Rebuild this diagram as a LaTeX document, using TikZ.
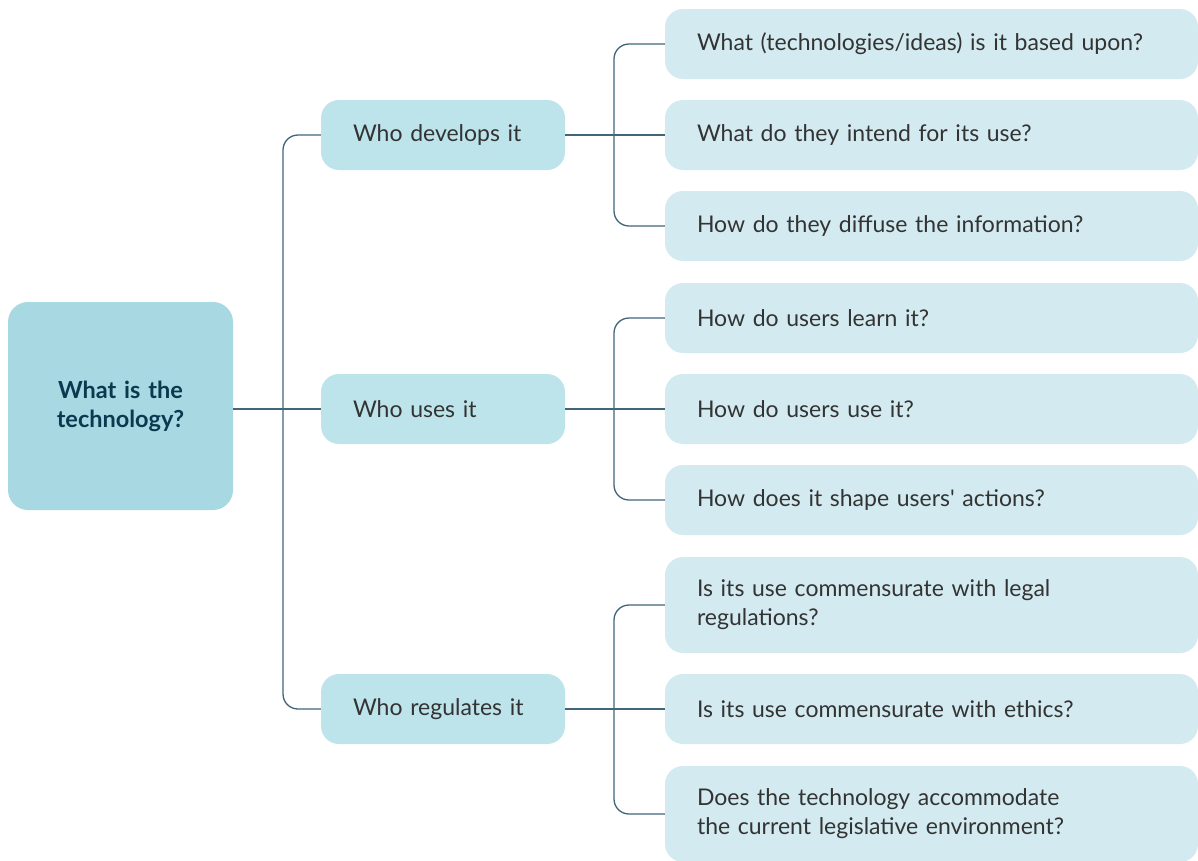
\documentclass[tikz,border=0pt]{standalone}
\usepackage{fontspec}
\setmainfont{Lato}
\newfontfamily\rawlato{Lato}
\begin{document}
\begin{tikzpicture}[x=1pt,y=-1pt,
  rootbox/.style={fill=rootfill,rounded corners=20pt,minimum width=225pt,minimum height=208pt,text width=200pt,align=center,text=roottext,font=\fontsize{23.5pt}{29pt}\selectfont\bfseries,inner sep=0pt},
  midbox/.style={fill=midfill,rounded corners=18pt,minimum width=244pt,minimum height=70pt,text width=180pt,align=left,inner xsep=32pt,inner ysep=0pt,text=bodytext,font=\fontsize{23pt}{29pt}\selectfont},
  leafbox/.style={fill=leaffill,rounded corners=18pt,minimum width=533pt,text width=469pt,align=left,inner xsep=32pt,inner ysep=0pt,text=bodytext,font=\fontsize{23pt}{29pt}\selectfont},
  conn/.style={draw=linecol,line width=1.3pt,rounded corners=15pt}]
\definecolor{rootfill}{HTML}{A8D8E2}
\definecolor{midfill}{HTML}{BDE3EB}
\definecolor{leaffill}{HTML}{D3EBF0}
\definecolor{linecol}{HTML}{41657A}
\definecolor{roottext}{HTML}{0B3A50}
\definecolor{bodytext}{HTML}{333333}
\useasboundingbox (0,0) rectangle (1198,860);
\begin{scope}
\clip (0,0) rectangle (1198,860);
\node[rootbox] (root) at (120.5,406) {What is the\\technology?};
\node[midbox] (m1) at (443,135) {Who develops it};
\node[midbox] (m2) at (443,409) {Who uses it};
\node[midbox] (m3) at (443,709) {Who regulates it};
\node[leafbox,minimum height=70pt] (l1) at (931.5,44) {What (technologies/ideas) is it based upon?};
\node[leafbox,minimum height=70pt] (l2) at (931.5,135) {What do they intend for its use?};
\node[leafbox,minimum height=70pt] (l3) at (931.5,226) {How do they diffuse the information?};
\node[leafbox,minimum height=70pt] (l4) at (931.5,318) {How do users learn it?};
\node[leafbox,minimum height=70pt] (l5) at (931.5,409) {How do users use it?};
\node[leafbox,minimum height=70pt] (l6) at (931.5,500) {How does it shape users{\rawlato'} actions?};
\node[leafbox,minimum height=96pt] (l7) at (931.5,605) {Is its use commensurate with legal\\regulations?};
\node[leafbox,minimum height=70pt] (l8) at (931.5,709) {Is its use commensurate with ethics?};
\node[leafbox,minimum height=96pt] (l9) at (931.5,814) {Does the technology accommodate\\the current legislative environment?};
\end{scope}
\coordinate (trunk) at (283,0);
\coordinate (b) at (614,0);
\draw[conn] (root.east |- m2.west) -- (m2.west);
\draw[conn] (m1.west) -- (m1.west -| trunk) -- (m3.west -| trunk) -- (m3.west);
\draw[conn] (m1.east) -- (l2.west);
\draw[conn] (l1.west) -- (l1.west -| b) -- (l3.west -| b) -- (l3.west);
\draw[conn] (m2.east) -- (l5.west);
\draw[conn] (l4.west) -- (l4.west -| b) -- (l6.west -| b) -- (l6.west);
\draw[conn] (m3.east) -- (l8.west);
\draw[conn] (l7.west) -- (l7.west -| b) -- (l9.west -| b) -- (l9.west);
\end{tikzpicture}
\end{document}
